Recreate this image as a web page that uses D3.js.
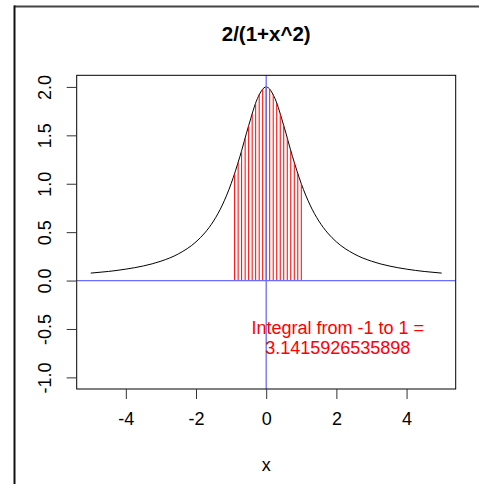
<!DOCTYPE html>
<html>
<head>
<meta charset="utf-8">
<script src="https://cdn.jsdelivr.net/npm/d3@7"></script>
<style>
  body { margin: 0; background: #fff; }
  text { font-family: "Liberation Sans", Arial, sans-serif; }
</style>
</head>
<body>
<div id="chart"></div>
<script>
// ----------------------------------------
// Data
// ----------------------------------------
const curveX = [-5, -4.5, -4, -3.5, -3, -2.5, -2, -1.75, -1.5, -1.25, -1, -0.75, -0.5, -0.25, 0,
                0.25, 0.5, 0.75, 1, 1.25, 1.5, 1.75, 2, 2.5, 3, 3.5, 4, 4.5, 5];
const curveY = [0.077, 0.094, 0.118, 0.151, 0.2, 0.276, 0.4, 0.492, 0.615, 0.78, 1.0, 1.28, 1.6, 1.88, 2.0,
                1.88, 1.6, 1.28, 1.0, 0.78, 0.615, 0.492, 0.4, 0.276, 0.2, 0.151, 0.118, 0.094, 0.077];

// red vertical sticks under the curve
const stickX = [-0.9, -0.8, -0.7, -0.6, -0.5, -0.4, -0.3, -0.2, -0.1, 0,
                0.1, 0.2, 0.3, 0.4, 0.5, 0.6, 0.7, 0.8, 0.9, 1.0];
const stickY = [1.105, 1.22, 1.342, 1.47, 1.6, 1.724, 1.835, 1.923, 1.98, 2.0,
                1.98, 1.923, 1.835, 1.724, 1.6, 1.47, 1.342, 1.22, 1.105, 1.0];

const xTicks = [-4, -2, 0, 2, 4];
const yTicks = [-1.0, -0.5, 0.0, 0.5, 1.0, 1.5, 2.0];

const titleText = "2/(1+x^2)";
const xLabel = "x";
const noteLines = ["Integral from -1 to 1 =", "3.1415926535898"];

// ----------------------------------------
// Setup
// ----------------------------------------
const width = 479, height = 484;
const plot = {left: 76.7, right: 455.7, top: 75.3, bottom: 389};
const font = "'Liberation Sans', Arial, sans-serif";

// plain hyphen for negatives, like R
const locale = d3.formatLocale({decimal: ".", thousands: ",", grouping: [3], currency: ["", ""], minus: "-"});

const svg = d3.select("#chart").append("svg")
    .attr("width", width)
    .attr("height", height);

const x = d3.scaleLinear().domain([-5.4, 5.4]).range([plot.left, plot.right]);
const y = d3.scaleLinear().domain([-1.12, 2.12]).range([plot.bottom, plot.top]);

// outer frame (top + left edges only)
svg.append("line")
    .attr("x1", 14).attr("x2", width).attr("y1", 6.5).attr("y2", 6.5)
    .attr("stroke", "#444").attr("stroke-width", 2);
svg.append("line")
    .attr("x1", 14.5).attr("x2", 14.5).attr("y1", 5.5).attr("y2", height)
    .attr("stroke", "#111").attr("stroke-width", 2);

const defs = svg.append("defs");
defs.append("clipPath").attr("id", "clip")
    .append("rect")
    .attr("x", plot.left).attr("y", plot.top)
    .attr("width", plot.right - plot.left).attr("height", plot.bottom - plot.top);

const g = svg.append("g").attr("clip-path", "url(#clip)");

// curve
const line = d3.line()
    .x((d, i) => x(curveX[i]))
    .y(d => y(d))
    .curve(d3.curveMonotoneX);

g.append("path")
    .datum(curveY)
    .attr("d", line)
    .attr("fill", "none")
    .attr("stroke", "#000")
    .attr("stroke-width", 1);

// red sticks
g.selectAll("line.stick")
    .data(stickX)
    .enter().append("line")
    .attr("class", "stick")
    .attr("x1", d => x(d)).attr("x2", d => x(d))
    .attr("y1", y(0))
    .attr("y2", (d, i) => y(stickY[i]))
    .attr("stroke", "red")
    .attr("stroke-width", 1);

// blue axes lines
g.append("line")
    .attr("x1", plot.left).attr("x2", plot.right)
    .attr("y1", y(0)).attr("y2", y(0))
    .attr("stroke", "#6b6bff").attr("stroke-width", 1.3);
g.append("line")
    .attr("x1", x(0)).attr("x2", x(0))
    .attr("y1", plot.top).attr("y2", plot.bottom)
    .attr("stroke", "#6b6bff").attr("stroke-width", 1.3);

// plot box
svg.append("rect")
    .attr("x", plot.left).attr("y", plot.top)
    .attr("width", plot.right - plot.left).attr("height", plot.bottom - plot.top)
    .attr("fill", "none").attr("stroke", "#000").attr("stroke-width", 1);

// axes
const xAxis = svg.append("g")
    .attr("transform", `translate(0,${plot.bottom})`)
    .call(d3.axisBottom(x).tickValues(xTicks).tickSize(10).tickPadding(13).tickFormat(locale.format("d")));
xAxis.select(".domain").remove();
xAxis.selectAll("line").attr("stroke", "#333");
xAxis.selectAll("text").attr("font-size", 18).attr("fill", "#000")
    .style("font-family", font);

const yAxis = svg.append("g")
    .attr("transform", `translate(${plot.left},0)`)
    .call(d3.axisLeft(y).tickValues(yTicks).tickSize(10).tickFormat(locale.format(".1f")));
yAxis.select(".domain").remove();
yAxis.selectAll("line").attr("stroke", "#333");
yAxis.selectAll("text")
    .attr("font-size", 18).attr("fill", "#000")
    .style("font-family", font)
    .attr("text-anchor", "middle")
    .attr("x", 0).attr("y", 0).attr("dy", null)
    .attr("transform", "translate(-32,0) rotate(-90) translate(0,6)");

// title and x label
svg.append("text")
    .attr("x", (plot.left + plot.right) / 2)
    .attr("y", 41)
    .attr("text-anchor", "middle")
    .attr("font-size", 20.5)
    .attr("font-weight", "bold")
    .text(titleText);

svg.append("text")
    .attr("x", (plot.left + plot.right) / 2)
    .attr("y", 471)
    .attr("text-anchor", "middle")
    .attr("font-size", 18)
    .text(xLabel);

// integral note
svg.selectAll("text.note")
    .data(noteLines)
    .enter().append("text")
    .attr("class", "note")
    .attr("x", x(2.04))
    .attr("y", (d, i) => 334 + i * 20)
    .attr("text-anchor", "middle")
    .attr("font-size", 18)
    .attr("fill", "red")
    .text(d => d);
</script>
</body>
</html>
